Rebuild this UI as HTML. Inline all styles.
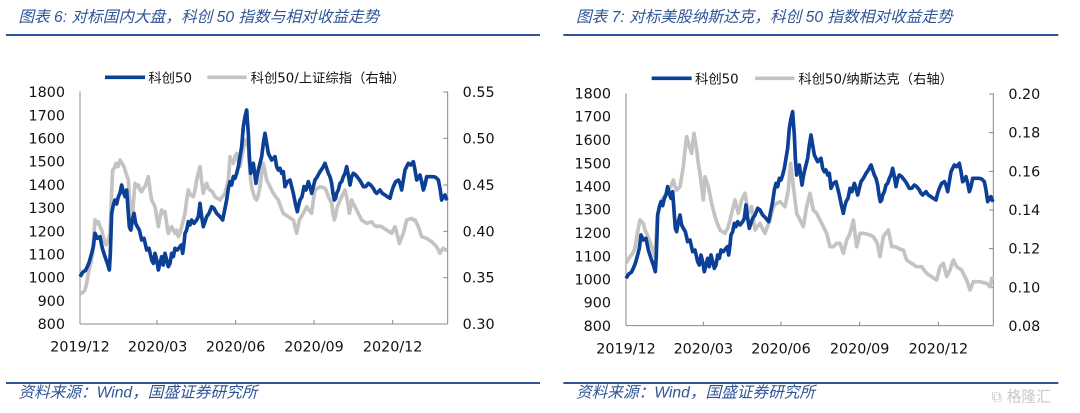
<!DOCTYPE html>
<html><head><meta charset="utf-8"><style>
html,body{margin:0;padding:0;background:#fff;width:1080px;height:413px;overflow:hidden}
svg{display:block}
text{font-family:"DejaVu Sans","Noto Sans CJK SC",sans-serif;fill:#111}
.t{font-family:"Liberation Sans","Noto Sans CJK SC",sans-serif;font-style:italic;fill:#2f5597;font-size:47px}
.ax{font-size:43px}
.lg{font-size:40px;font-family:"DejaVu Sans","Noto Sans CJK SC",sans-serif}
</style></head><body>
<svg width="1080" height="413" viewBox="0 0 3240 1239">
<defs>
<polyline id="blue" fill="none" stroke="#0c3f96" stroke-width="11" stroke-linejoin="round" points="240,830 245,822 250,815 256,812 262,800 268,785 275,760 280,740 285,700 292,715 300,710 307,745 315,770 322,790 328,810 331,760 335,640 340,615 345,600 350,612 355,590 360,580 365,555 370,575 375,590 380,570 385,640 388,680 392,690 397,660 402,640 407,670 412,680 418,690 425,720 432,715 440,750 447,745 455,780 460,790 465,760 470,780 475,810 480,790 485,770 490,795 495,760 500,780 505,800 510,790 515,760 520,770 525,745 532,750 540,740 544,735 548,760 552,730 555,700 560,690 565,665 570,675 575,660 582,670 590,660 595,650 600,610 605,650 610,680 615,665 620,650 627,640 635,620 642,625 650,640 660,650 668,660 674,630 680,600 685,565 690,545 695,555 700,530 705,535 710,520 715,500 720,470 725,440 730,380 735,350 740,330 742,360 745,400 748,470 752,520 756,500 760,490 764,520 768,550 771,530 775,510 780,490 785,470 790,430 795,400 800,430 805,460 810,470 815,480 820,475 825,470 830,500 835,510 840,505 845,520 850,515 855,560 862,545 870,540 875,560 880,580 886,610 892,635 896,615 900,600 906,590 912,560 918,570 925,545 930,560 935,580 940,560 945,540 952,530 960,515 967,505 975,490 980,505 985,520 990,530 995,550 999,580 1003,600 1007,595 1010,580 1015,570 1020,550 1025,545 1030,530 1035,520 1040,500 1045,525 1050,555 1055,530 1060,520 1067,525 1075,535 1082,545 1090,560 1097,560 1105,550 1112,555 1120,565 1125,575 1130,580 1135,575 1140,570 1147,580 1155,585 1162,590 1170,595 1175,575 1180,560 1187,545 1195,540 1200,550 1205,570 1210,540 1215,510 1220,500 1225,490 1232,495 1240,485 1245,510 1250,540 1255,535 1260,525 1265,545 1270,570 1275,555 1280,530 1290,530 1300,530 1307,532 1315,540 1320,565 1325,600 1330,590 1335,585 1338,595 1342,600"/>
</defs>
<!-- LEFT PANEL -->
<g>
<text class="t" x="55" y="66">图表 6:  对标国内大盘，科创 50 指数与相对收益走势</text>
<rect x="18" y="102" width="1602" height="6" fill="#2f5597"/>
<rect x="18" y="1146" width="1602" height="6" fill="#2f5597"/>
<text class="t" x="55" y="1193">资料来源：Wind，国盛证券研究所</text>
<line x1="315" y1="232" x2="435" y2="232" stroke="#0c3f96" stroke-width="11"/>
<text class="lg" x="445" y="247">科创50</text>
<line x1="622" y1="232" x2="740" y2="232" stroke="#c3c3c3" stroke-width="11"/>
<text class="lg" x="752" y="247">科创50/上证综指（右轴）</text>
<g stroke="#888" stroke-width="3" fill="none">
<line x1="240" y1="274" x2="240" y2="972"/><line x1="240" y1="972" x2="1343" y2="972"/>
<line x1="1343" y1="274" x2="1343" y2="972"/>
<line x1="1330" y1="276" x2="1343" y2="276"/><line x1="1330" y1="415" x2="1343" y2="415"/><line x1="1330" y1="555" x2="1343" y2="555"/><line x1="1330" y1="694" x2="1343" y2="694"/><line x1="1330" y1="833" x2="1343" y2="833"/>
<line x1="471" y1="972" x2="471" y2="960"/><line x1="707" y1="972" x2="707" y2="960"/><line x1="942" y1="972" x2="942" y2="960"/><line x1="1178" y1="972" x2="1178" y2="960"/>
</g>
<g class="ax" text-anchor="end">
<text x="195" y="291">1800</text><text x="195" y="361">1700</text><text x="195" y="430">1600</text><text x="195" y="500">1500</text><text x="195" y="570">1400</text><text x="195" y="639">1300</text><text x="195" y="709">1200</text><text x="195" y="778">1100</text><text x="195" y="848">1000</text><text x="195" y="918">900</text><text x="195" y="987">800</text>
</g>
<g class="ax">
<text x="1388" y="291">0.55</text><text x="1388" y="430">0.50</text><text x="1388" y="570">0.45</text><text x="1388" y="709">0.40</text><text x="1388" y="848">0.35</text><text x="1388" y="987">0.30</text>
</g>
<g class="ax" text-anchor="middle">
<text x="240" y="1055">2019/12</text><text x="473" y="1055">2020/03</text><text x="707" y="1055">2020/06</text><text x="942" y="1055">2020/09</text><text x="1178" y="1055">2020/12</text>
</g>
<polyline fill="none" stroke="#c3c3c3" stroke-width="11" stroke-linejoin="round" points="240,880 248,878 255,870 260,850 265,820 272,790 278,760 282,700 285,660 290,670 295,665 300,680 305,690 312,720 318,735 324,720 330,700 334,600 338,510 343,505 348,490 354,500 360,480 366,490 372,500 378,520 385,540 390,620 395,690 400,610 405,550 410,560 415,555 420,570 425,575 430,565 435,560 440,545 445,530 450,570 455,600 460,610 465,620 470,650 475,680 480,650 485,630 490,640 495,635 500,670 505,700 510,690 515,680 520,690 525,700 530,690 535,710 540,700 545,680 550,660 555,640 560,600 565,570 572,585 580,590 585,570 590,540 595,520 600,500 605,545 610,580 615,560 620,550 625,565 630,570 637,575 645,590 652,595 660,600 667,590 675,580 680,560 685,540 688,500 690,470 695,485 700,490 705,470 710,460 715,485 720,500 727,460 735,420 740,430 745,440 748,490 752,540 756,565 760,580 765,595 770,600 775,585 780,560 785,520 790,490 795,515 800,540 805,550 810,560 815,570 820,580 827,590 835,600 842,620 850,640 857,645 865,650 872,655 880,660 885,680 890,700 894,680 898,660 904,650 910,640 915,630 920,620 927,630 935,640 940,600 945,570 952,565 960,560 967,562 975,565 980,575 985,590 990,600 995,610 999,640 1003,660 1008,640 1012,620 1018,605 1025,590 1030,580 1035,570 1042,600 1048,640 1052,620 1055,600 1062,615 1070,630 1077,645 1085,660 1092,665 1100,670 1107,668 1115,665 1122,675 1130,680 1137,678 1145,680 1152,685 1160,690 1167,695 1175,700 1180,690 1185,680 1192,705 1198,730 1204,715 1210,700 1215,680 1220,660 1227,658 1235,655 1240,660 1245,660 1250,670 1255,680 1260,695 1265,710 1272,712 1280,715 1287,720 1295,725 1302,732 1310,740 1315,750 1320,760 1325,750 1330,745 1336,750 1342,750"/>
<use href="#blue"/>
</g>
<!-- RIGHT PANEL -->
<g transform="translate(1620,0)">
<text class="t" x="108" y="66">图表 7:  对标美股纳斯达克，科创 50 指数相对收益走势</text>
<rect x="70" y="102" width="1485" height="6" fill="#2f5597"/>
<rect x="70" y="1146" width="1485" height="6" fill="#2f5597"/>
<text class="t" x="108" y="1193">资料来源：Wind，国盛证券研究所</text>
<text x="1355" y="1205" font-size="44" style="fill:#c8c8c8">⧉ 格隆汇</text>
<line x1="335" y1="235" x2="455" y2="235" stroke="#0c3f96" stroke-width="11"/>
<text class="lg" x="465" y="250">科创50</text>
<line x1="645" y1="235" x2="763" y2="235" stroke="#c3c3c3" stroke-width="11"/>
<text class="lg" x="775" y="250">科创50/纳斯达克（右轴）</text>
<g stroke="#888" stroke-width="3" fill="none">
<line x1="258" y1="280" x2="258" y2="977"/><line x1="258" y1="977" x2="1360" y2="977"/>
<line x1="1360" y1="280" x2="1360" y2="977"/>
<line x1="1347" y1="282" x2="1360" y2="282"/><line x1="1347" y1="398" x2="1360" y2="398"/><line x1="1347" y1="514" x2="1360" y2="514"/><line x1="1347" y1="630" x2="1360" y2="630"/><line x1="1347" y1="746" x2="1360" y2="746"/><line x1="1347" y1="862" x2="1360" y2="862"/>
<line x1="490" y1="977" x2="490" y2="965"/><line x1="723" y1="977" x2="723" y2="965"/><line x1="959" y1="977" x2="959" y2="965"/><line x1="1195" y1="977" x2="1195" y2="965"/>
</g>
<g class="ax" text-anchor="end">
<text x="213" y="295">1800</text><text x="213" y="365">1700</text><text x="213" y="435">1600</text><text x="213" y="505">1500</text><text x="213" y="574">1400</text><text x="213" y="644">1300</text><text x="213" y="714">1200</text><text x="213" y="784">1100</text><text x="213" y="853">1000</text><text x="213" y="923">900</text><text x="213" y="993">800</text>
</g>
<g class="ax">
<text x="1405" y="297">0.20</text><text x="1405" y="413">0.18</text><text x="1405" y="529">0.16</text><text x="1405" y="645">0.14</text><text x="1405" y="761">0.12</text><text x="1405" y="877">0.10</text><text x="1405" y="993">0.08</text>
</g>
<g class="ax" text-anchor="middle">
<text x="258" y="1060">2019/12</text><text x="490" y="1060">2020/03</text><text x="723" y="1060">2020/06</text><text x="959" y="1060">2020/09</text><text x="1195" y="1060">2020/12</text>
</g>
<polyline fill="none" stroke="#c3c3c3" stroke-width="11" stroke-linejoin="round" points="258,790 264,780 270,770 278,760 285,745 292,700 300,660 305,665 310,670 315,690 320,700 328,720 335,740 340,755 345,770 348,720 352,650 358,625 365,600 372,590 380,580 386,570 392,560 396,550 400,540 405,560 410,570 415,565 420,560 425,530 430,500 435,450 440,410 444,425 448,440 452,450 455,460 458,430 462,400 466,425 470,450 475,490 480,520 485,560 490,600 493,560 495,530 500,545 505,560 510,585 515,610 520,630 525,650 532,670 540,690 547,695 555,700 560,690 565,680 570,660 575,640 580,620 585,600 590,620 595,640 600,620 605,600 610,590 615,580 620,610 625,640 630,630 635,620 640,655 645,690 652,680 660,670 667,685 675,700 682,680 690,660 695,640 700,620 705,615 710,610 715,608 720,605 727,612 735,620 740,595 745,570 748,530 752,490 756,525 760,560 765,600 770,640 775,650 780,660 785,670 790,680 795,650 800,620 805,600 810,580 815,605 820,630 825,635 830,640 835,650 840,660 845,670 850,680 855,690 860,700 865,720 870,740 875,740 880,740 885,735 890,730 895,730 900,730 905,745 910,760 915,740 920,720 925,710 930,700 935,680 940,660 945,700 950,740 955,720 960,700 965,700 970,700 980,702 990,705 995,708 1000,710 1006,720 1012,730 1016,750 1020,770 1025,740 1030,710 1037,700 1045,690 1050,715 1055,740 1060,740 1065,740 1070,742 1075,745 1082,748 1090,750 1095,765 1100,780 1107,785 1115,790 1122,795 1130,800 1137,800 1145,800 1152,810 1160,820 1167,825 1175,830 1182,835 1190,840 1195,820 1200,800 1205,795 1210,790 1215,810 1220,830 1225,820 1230,810 1235,795 1240,780 1245,790 1250,800 1257,805 1265,810 1272,825 1280,840 1285,855 1290,870 1295,858 1300,845 1310,845 1320,845 1330,848 1340,850 1345,855 1350,860 1353,848 1355,835 1358,838 1360,840"/>
<use href="#blue" transform="translate(18,5)"/>
</g>
</svg>
</body></html>
